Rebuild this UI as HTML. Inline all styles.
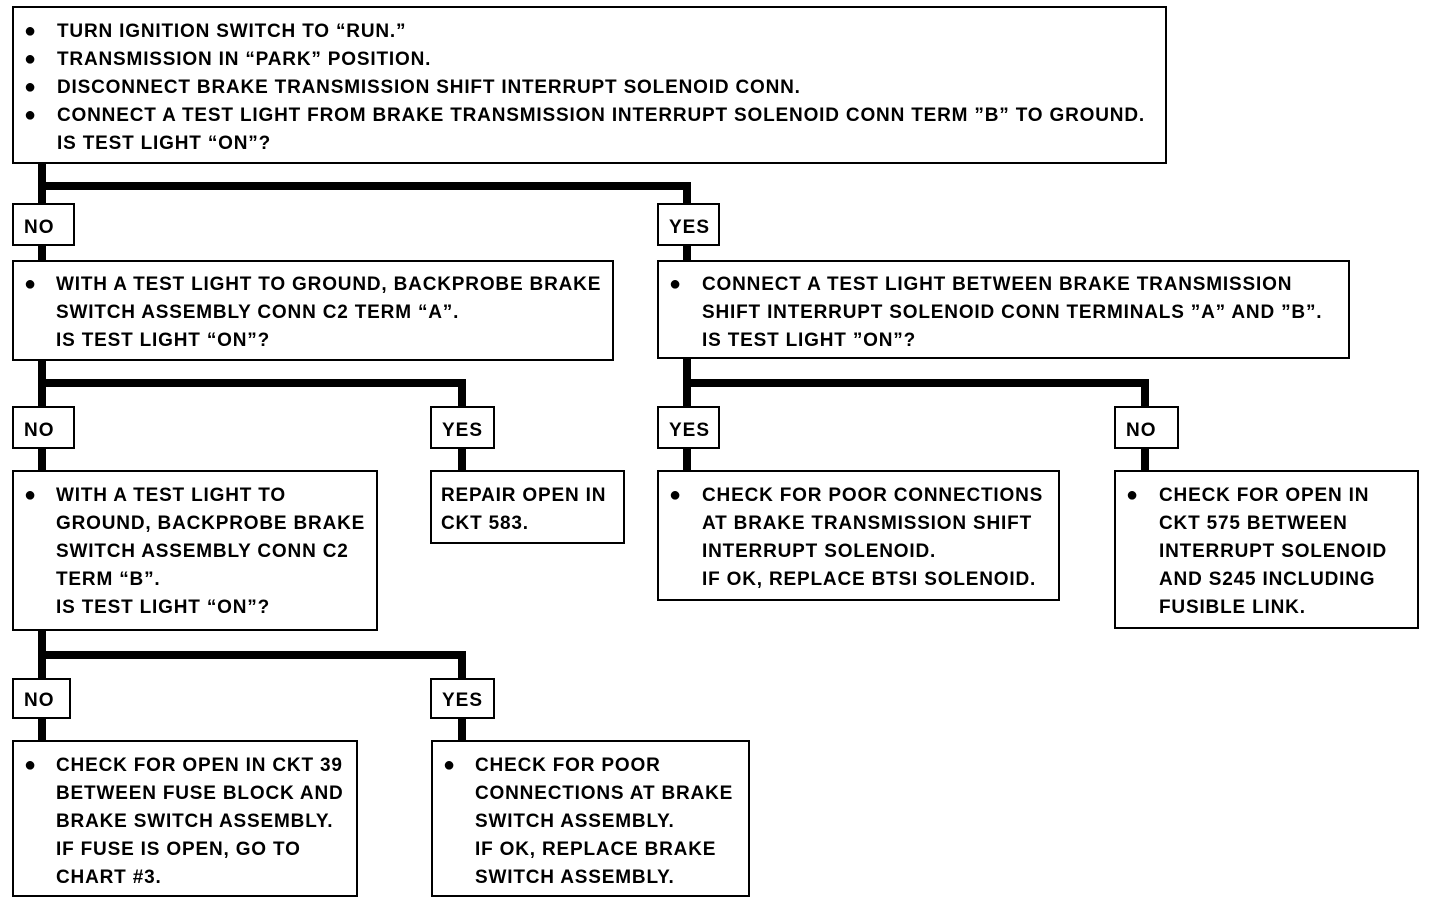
<!DOCTYPE html>
<html><head><meta charset="utf-8"><style>
body{margin:0;width:1440px;height:904px;background:#fff;position:relative;overflow:hidden;font-family:"Liberation Sans",sans-serif;font-weight:bold;color:#000}
.b{position:absolute;border:2px solid #000;box-sizing:border-box;background:#fff}
.t{position:absolute;font-size:19px;line-height:28px;white-space:pre;letter-spacing:0.82px}
.d{position:absolute;font-size:20px;line-height:28px}
.l{position:absolute;background:#000}
.lab{position:absolute;border:2px solid #000;box-sizing:border-box;background:#fff;font-size:19px;line-height:46px;padding-left:10px;letter-spacing:1px}
</style></head><body>
<div class="l" style="left:38px;top:163px;width:8px;height:40px"></div>
<div class="l" style="left:38px;top:182px;width:653px;height:8px"></div>
<div class="l" style="left:683px;top:182px;width:8px;height:22px"></div>
<div class="l" style="left:38px;top:245px;width:8px;height:16px"></div>
<div class="l" style="left:683px;top:245px;width:8px;height:16px"></div>

<div class="l" style="left:38px;top:360px;width:8px;height:47px"></div>
<div class="l" style="left:38px;top:379px;width:428px;height:8px"></div>
<div class="l" style="left:458px;top:379px;width:8px;height:28px"></div>
<div class="l" style="left:38px;top:448px;width:8px;height:23px"></div>
<div class="l" style="left:458px;top:448px;width:8px;height:23px"></div>

<div class="l" style="left:683px;top:358px;width:8px;height:49px"></div>
<div class="l" style="left:683px;top:379px;width:466px;height:8px"></div>
<div class="l" style="left:1141px;top:379px;width:8px;height:28px"></div>
<div class="l" style="left:683px;top:448px;width:8px;height:23px"></div>
<div class="l" style="left:1141px;top:448px;width:8px;height:23px"></div>

<div class="l" style="left:38px;top:630px;width:8px;height:49px"></div>
<div class="l" style="left:38px;top:651px;width:428px;height:8px"></div>
<div class="l" style="left:458px;top:651px;width:8px;height:28px"></div>
<div class="l" style="left:38px;top:718px;width:8px;height:23px"></div>
<div class="l" style="left:458px;top:718px;width:8px;height:23px"></div>

<div class="b" style="left:12px;top:6px;width:1155px;height:158px"></div>
<div class="d" style="left:24px;top:17px">●<br>●<br>●<br>●</div>
<div class="t" style="left:57px;top:18px">TURN IGNITION SWITCH TO “RUN.”
TRANSMISSION IN “PARK” POSITION.
DISCONNECT BRAKE TRANSMISSION SHIFT INTERRUPT SOLENOID CONN.
CONNECT A TEST LIGHT FROM BRAKE TRANSMISSION INTERRUPT SOLENOID CONN TERM ”B” TO GROUND.
IS TEST LIGHT “ON”?</div>

<div class="lab" style="left:12px;top:203px;width:63px;height:43px">NO</div>
<div class="lab" style="left:657px;top:203px;width:63px;height:43px">YES</div>

<div class="b" style="left:12px;top:260px;width:602px;height:101px"></div>
<div class="d" style="left:24px;top:270px">●</div>
<div class="t" style="left:56px;top:271px">WITH A TEST LIGHT TO GROUND, BACKPROBE BRAKE
SWITCH ASSEMBLY CONN C2 TERM “A”.
IS TEST LIGHT “ON”?</div>

<div class="b" style="left:657px;top:260px;width:693px;height:99px"></div>
<div class="d" style="left:669px;top:270px">●</div>
<div class="t" style="left:702px;top:271px">CONNECT A TEST LIGHT BETWEEN BRAKE TRANSMISSION
SHIFT INTERRUPT SOLENOID CONN TERMINALS ”A” AND ”B”.
IS TEST LIGHT ”ON”?</div>

<div class="lab" style="left:12px;top:406px;width:63px;height:43px">NO</div>
<div class="lab" style="left:430px;top:406px;width:65px;height:43px">YES</div>
<div class="lab" style="left:657px;top:406px;width:63px;height:43px">YES</div>
<div class="lab" style="left:1114px;top:406px;width:65px;height:43px">NO</div>

<div class="b" style="left:12px;top:470px;width:366px;height:161px"></div>
<div class="d" style="left:24px;top:481px">●</div>
<div class="t" style="left:56px;top:482px">WITH A TEST LIGHT TO
GROUND, BACKPROBE BRAKE
SWITCH ASSEMBLY CONN C2
TERM “B”.
IS TEST LIGHT “ON”?</div>

<div class="b" style="left:430px;top:470px;width:195px;height:74px"></div>
<div class="t" style="left:441px;top:482px">REPAIR OPEN IN
CKT 583.</div>

<div class="b" style="left:657px;top:470px;width:403px;height:131px"></div>
<div class="d" style="left:669px;top:481px">●</div>
<div class="t" style="left:702px;top:482px">CHECK FOR POOR CONNECTIONS
AT BRAKE TRANSMISSION SHIFT
INTERRUPT SOLENOID.
IF OK, REPLACE BTSI SOLENOID.</div>

<div class="b" style="left:1114px;top:470px;width:305px;height:159px"></div>
<div class="d" style="left:1126px;top:481px">●</div>
<div class="t" style="left:1159px;top:482px">CHECK FOR OPEN IN
CKT 575 BETWEEN
INTERRUPT SOLENOID
AND S245 INCLUDING
FUSIBLE LINK.</div>

<div class="lab" style="left:12px;top:678px;width:59px;height:41px;line-height:42px">NO</div>
<div class="lab" style="left:430px;top:678px;width:65px;height:41px;line-height:42px">YES</div>

<div class="b" style="left:12px;top:740px;width:346px;height:157px"></div>
<div class="d" style="left:24px;top:751px">●</div>
<div class="t" style="left:56px;top:752px">CHECK FOR OPEN IN CKT 39
BETWEEN FUSE BLOCK AND
BRAKE SWITCH ASSEMBLY.
IF FUSE IS OPEN, GO TO
CHART #3.</div>

<div class="b" style="left:431px;top:740px;width:319px;height:157px"></div>
<div class="d" style="left:443px;top:751px">●</div>
<div class="t" style="left:475px;top:752px">CHECK FOR POOR
CONNECTIONS AT BRAKE
SWITCH ASSEMBLY.
IF OK, REPLACE BRAKE
SWITCH ASSEMBLY.</div>
</body></html>
